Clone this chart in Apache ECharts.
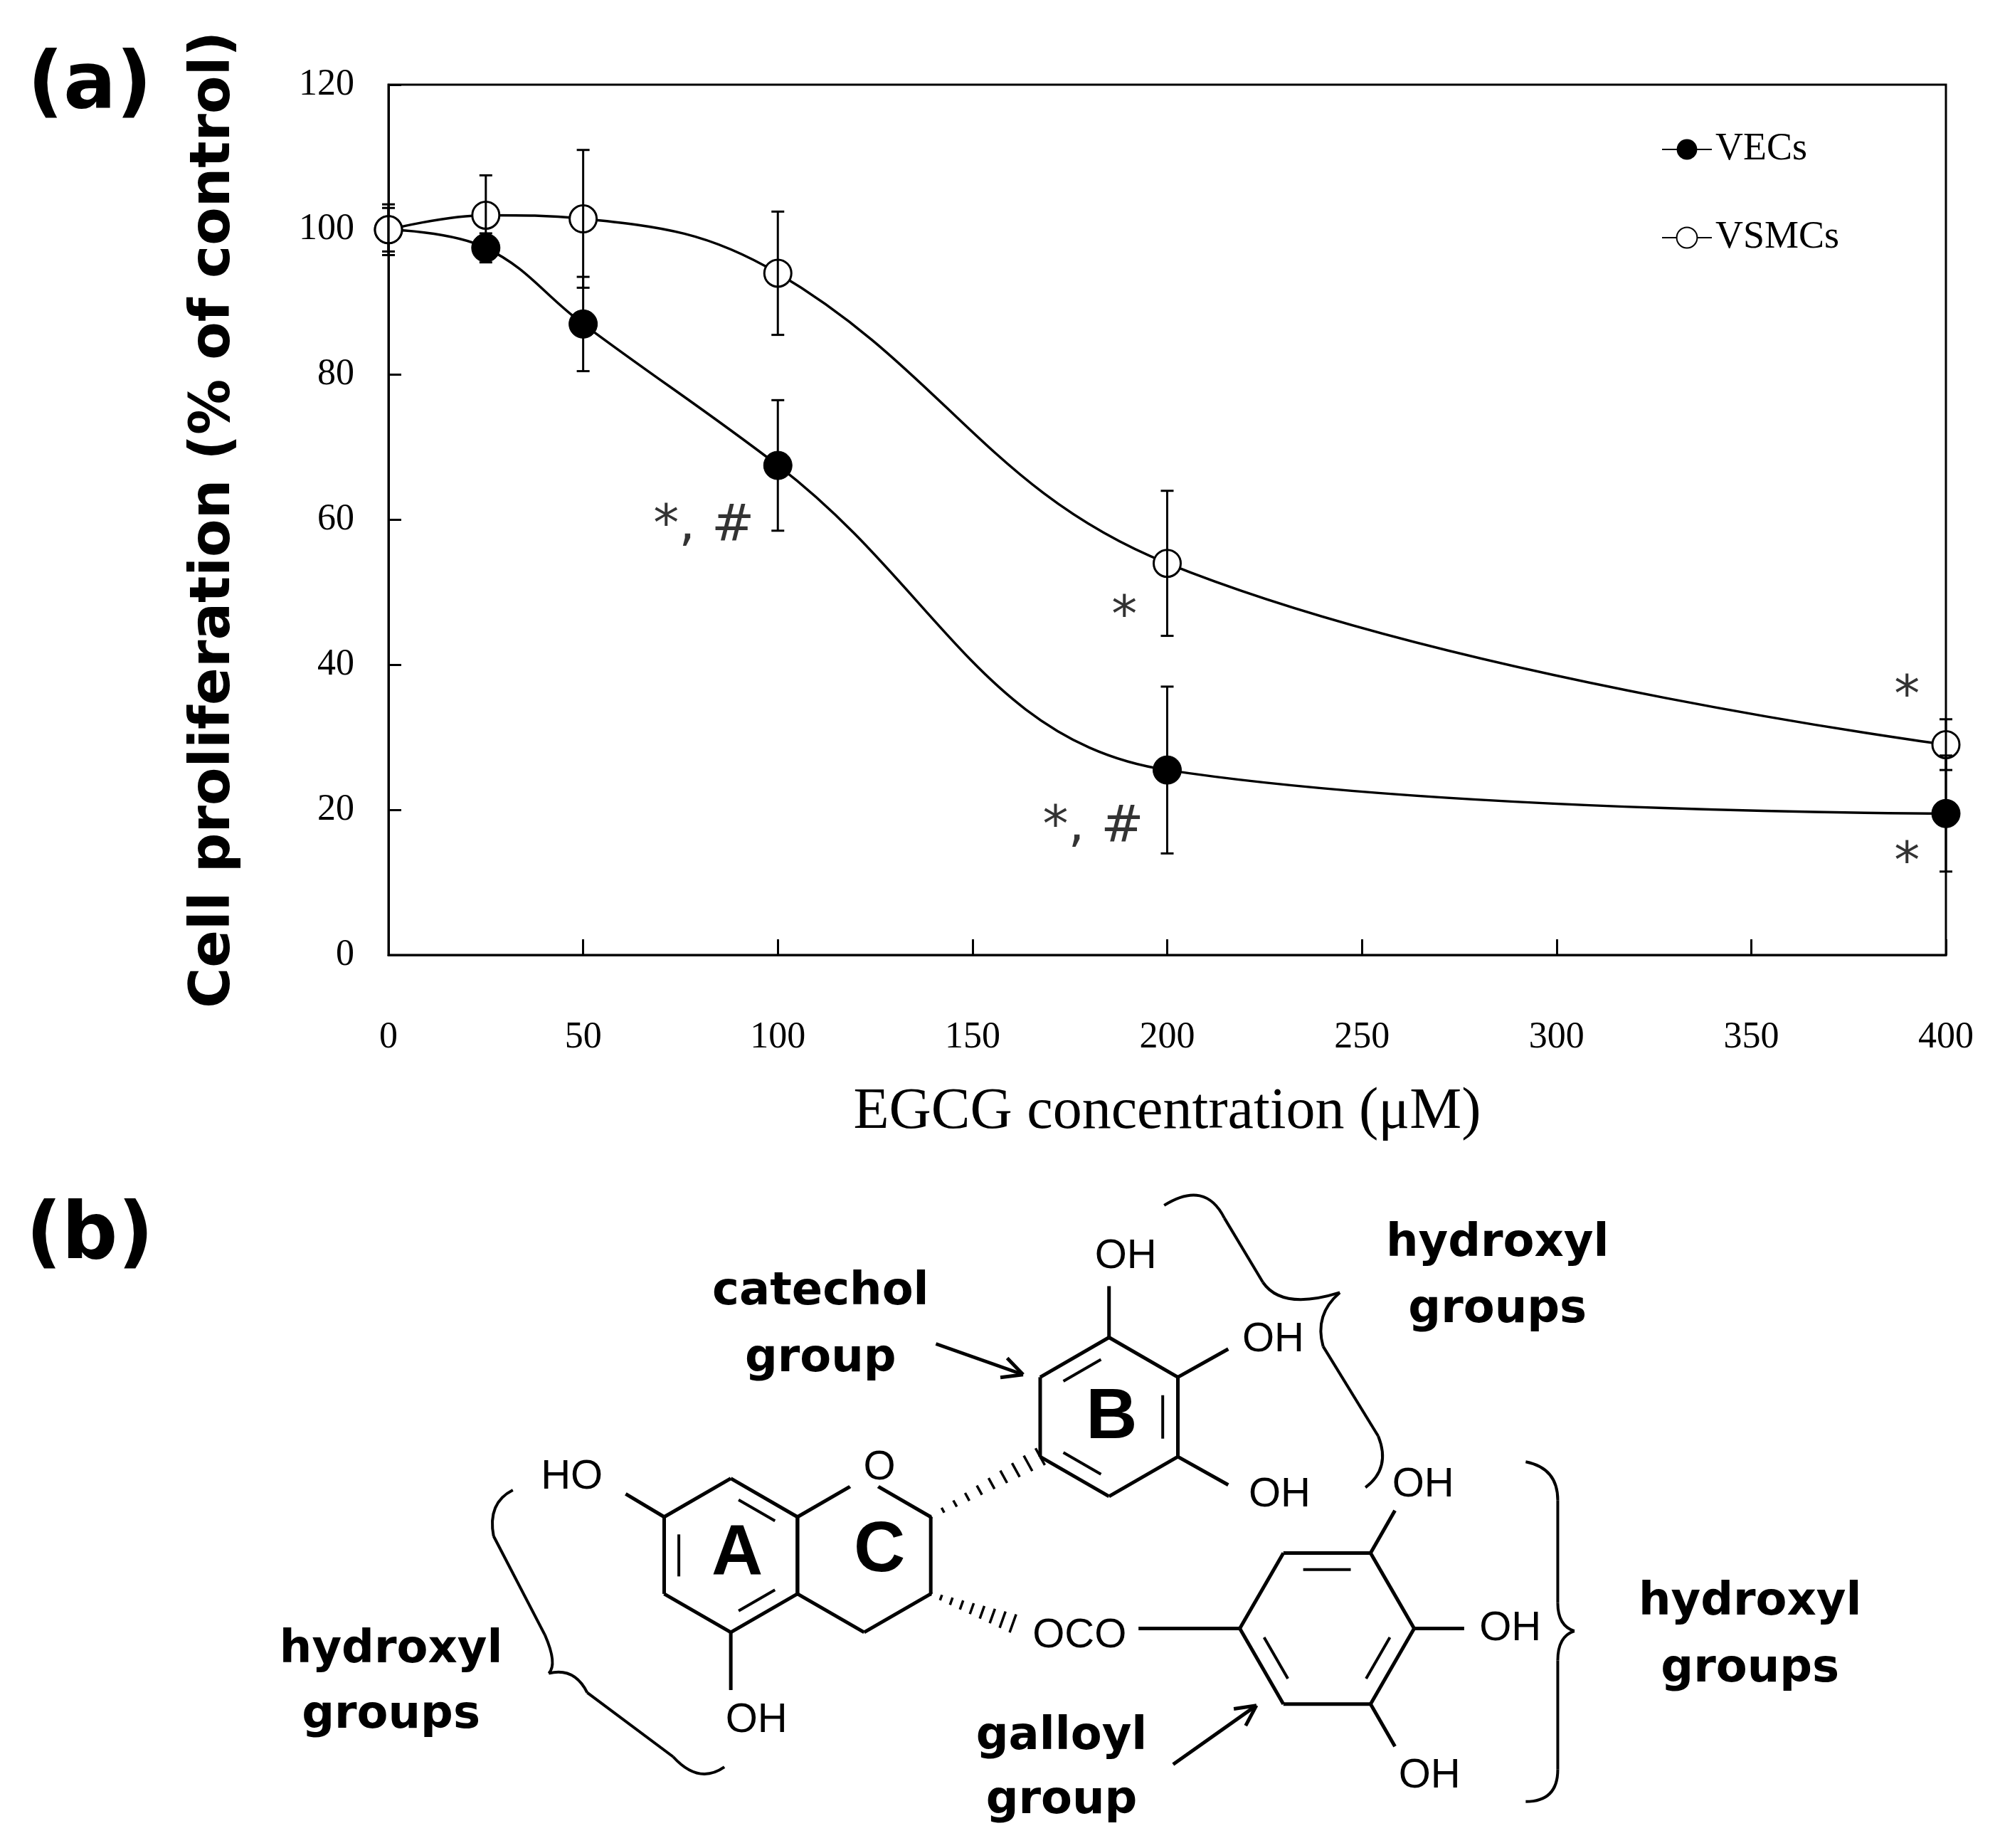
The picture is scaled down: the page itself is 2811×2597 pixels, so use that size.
<!DOCTYPE html>
<html>
<head>
<meta charset="utf-8">
<script src="https://cdn.jsdelivr.net/npm/echarts@6/dist/echarts.min.js"></script>
<style>html,body{margin:0;padding:0;background:#fff}#main{width:2811px;height:2597px}</style>
</head>
<body>
<div id="main"></div>
<script>
// EGCG concentration (uM)
var doses = [0, 25, 50, 100, 200, 400];
var vecMean = [100, 97.5, 87, 67.5, 25.5, 19.5];
var vecErr = [3, 2, 6.5, 9, 11.5, 8];
var vsmcMean = [100, 102, 101.5, 94, 54, 29];
var vsmcErr = [3.5, 5.5, 9.5, 8.5, 10, 3.5];
var xTicks = [0, 50, 100, 150, 200, 250, 300, 350, 400];
// significance marks: [x, y, text]
var marks = [[81, 59, '*, #'], [181, 17.5, '*, #'], [189, 46.5, '*'], [390, 35.5, '*'], [390, 12.5, '*']];

var S = 1.802; // reference scale
function P(x, y) { return [x * S, y * S]; }

var chart = echarts.init(document.getElementById('main'));

function errData(m, e) {
    return doses.map(function (d, i) { return [d, m[i] - e[i], m[i] + e[i]]; });
}
function errSeries(data) {
    return {
        type: 'custom', z: 5, silent: true,
        renderItem: function (params, api) {
            var lo = api.coord([api.value(0), api.value(1)]);
            var hi = api.coord([api.value(0), api.value(2)]);
            var w = 9;
            var st = { stroke: '#000', lineWidth: 3 };
            return { type: 'group', children: [
                { type: 'line', shape: { x1: lo[0], y1: lo[1], x2: hi[0], y2: hi[1] }, style: st },
                { type: 'line', shape: { x1: lo[0] - w, y1: lo[1], x2: lo[0] + w, y2: lo[1] }, style: st },
                { type: 'line', shape: { x1: hi[0] - w, y1: hi[1], x2: hi[0] + w, y2: hi[1] }, style: st }
            ] };
        },
        data: data
    };
}

// ---------- structure drawing (panel b) ----------
var g = [];
function line(a, b, w) {
    var p = P(a[0], a[1]), q = P(b[0], b[1]);
    g.push({ type: 'line', shape: { x1: p[0], y1: p[1], x2: q[0], y2: q[1] }, style: { stroke: '#000', lineWidth: w || 5 } });
}
function txt(x, y, s, size, weight, family) {
    var p = P(x, y);
    g.push({ type: 'text', x: p[0], y: p[1], style: { text: s, fontSize: size, fontWeight: weight || 'normal',
        fontFamily: family || 'Liberation Sans Narrow', fill: '#000', align: 'center', verticalAlign: 'middle' } });
}
function hexPts(cx, cy, r, start) {
    var pts = [];
    for (var i = 0; i < 6; i++) {
        var a = (start + 60 * i) * Math.PI / 180;
        pts.push([cx + r * Math.cos(a), cy + r * Math.sin(a)]);
    }
    return pts;
}
function ring(cx, cy, r, start, dbl) {
    var pts = hexPts(cx, cy, r, start);
    for (var i = 0; i < 6; i++) line(pts[i], pts[(i + 1) % 6]);
    dbl.forEach(function (i) {
        var a = pts[i], b = pts[(i + 1) % 6];
        var f = 0.78, t = 0.15;
        var a2 = [cx + (a[0] - cx) * f, cy + (a[1] - cy) * f], b2 = [cx + (b[0] - cx) * f, cy + (b[1] - cy) * f];
        line([a2[0] + (b2[0] - a2[0]) * t, a2[1] + (b2[1] - a2[1]) * t],
             [b2[0] + (a2[0] - b2[0]) * t, b2[1] + (a2[1] - b2[1]) * t], 4);
    });
    return pts;
}
function hashed(a, b, n) {
    var dx = b[0] - a[0], dy = b[1] - a[1], L = Math.sqrt(dx * dx + dy * dy);
    var nx = -dy / L, ny = dx / L;
    for (var i = 0; i <= n; i++) {
        var t = i / n, h = 1.5 + 6 * t;
        var cx = a[0] + dx * t, cy = a[1] + dy * t;
        line([cx - nx * h, cy - ny * h], [cx + nx * h, cy + ny * h], 3.5);
    }
}
function arrow(a, b) {
    line(a, b, 5);
    var dx = b[0] - a[0], dy = b[1] - a[1], L = Math.sqrt(dx * dx + dy * dy);
    var ux = dx / L, uy = dy / L, h = 16;
    line(b, [b[0] - ux * h - uy * 8, b[1] - uy * h + ux * 8], 5);
    line(b, [b[0] - ux * h + uy * 8, b[1] - uy * h - ux * 8], 5);
}
// brace: start point then segments [x,y] (line) or [cx,cy,x,y] (quadratic)
function brace(start, segs) {
    var cur = start;
    segs.forEach(function (s) {
        if (s.length === 2) { line(cur, s, 4); cur = s; return; }
        var p = P(cur[0], cur[1]), c = P(s[0], s[1]), q = P(s[2], s[3]);
        g.push({ type: 'bezierCurve', shape: { x1: p[0], y1: p[1], cpx1: c[0], cpy1: c[1], x2: q[0], y2: q[1] },
            style: { stroke: '#000', lineWidth: 4, fill: null } });
        cur = [s[2], s[3]];
    });
}

var A = ring(570, 1213, 60, -90, [0, 2, 4]);
var C = ring(674, 1213, 60, -90, []);
var B = ring(865, 1105, 62, -90, [1, 3, 5]);
var G = ring(1035, 1270, 68, 0, [4, 0, 2]);
// O in ring C
g.push({ type: 'circle', shape: { cx: 674 * S, cy: 1150 * S, r: 26 }, style: { fill: '#fff' } });
txt(686, 1145, 'O', 58, 'normal', 'Liberation Sans');
line(A[5], [488, 1165]);
txt(446, 1152, 'HO', 58, 'normal', 'Liberation Sans');
line(A[3], [570, 1318]);
txt(590, 1342, 'OH', 58, 'normal', 'Liberation Sans');
hashed(C[1], B[4], 9);
line(B[0], [865, 1003]);
txt(878, 980, 'OH', 58, 'normal', 'Liberation Sans');
line(B[1], [958, 1052]);
txt(993, 1045, 'OH', 58, 'normal', 'Liberation Sans');
line(B[2], [958, 1158]);
txt(998, 1166, 'OH', 58, 'normal', 'Liberation Sans');
hashed(C[2], [790, 1266], 8);
txt(842, 1276, 'OCO', 58, 'normal', 'Liberation Sans');
line([888, 1270], G[3]);
line(G[5], [1088, 1178]);
txt(1110, 1158, 'OH', 58, 'normal', 'Liberation Sans');
line(G[0], [1142, 1270]);
txt(1178, 1270, 'OH', 58, 'normal', 'Liberation Sans');
line(G[1], [1088, 1362]);
txt(1115, 1385, 'OH', 58, 'normal', 'Liberation Sans');
txt(575, 1213, 'A', 100, 'bold', 'Liberation Sans');
txt(686, 1210, 'C', 100, 'bold', 'Liberation Sans');
txt(867, 1106, 'B', 100, 'bold', 'Liberation Sans');
txt(640, 1008, 'catechol', 64, 'bold', 'DejaVu Sans');
txt(640, 1060, 'group', 64, 'bold', 'DejaVu Sans');
txt(1168, 970, 'hydroxyl', 64, 'bold', 'DejaVu Sans');
txt(1168, 1022, 'groups', 64, 'bold', 'DejaVu Sans');
txt(305, 1287, 'hydroxyl', 64, 'bold', 'DejaVu Sans');
txt(305, 1338, 'groups', 64, 'bold', 'DejaVu Sans');
txt(1365, 1250, 'hydroxyl', 64, 'bold', 'DejaVu Sans');
txt(1365, 1302, 'groups', 64, 'bold', 'DejaVu Sans');
txt(828, 1355, 'galloyl', 64, 'bold', 'DejaVu Sans');
txt(828, 1405, 'group', 64, 'bold', 'DejaVu Sans');
arrow([730, 1048], [798, 1072]);
arrow([915, 1376], [980, 1330]);
brace([908, 940], [[940, 920, 955, 950], [985, 1000], [1000, 1022, 1045, 1008], [1025, 1025, 1032, 1050], [1075, 1120], [1085, 1145, 1065, 1160]]);
brace([1190, 1140], [[1215, 1145, 1215, 1170], [1215, 1250], [1215, 1268, 1228, 1272], [1215, 1276, 1215, 1295], [1215, 1380], [1215, 1405, 1190, 1405]]);
brace([400, 1162], [[380, 1172, 385, 1198], [425, 1275], [435, 1298, 428, 1305], [448, 1300, 458, 1320], [525, 1370], [545, 1392, 565, 1378]]);
txt(70, 965, '(b)', 110, 'bold', 'DejaVu Sans');
txt(70, 68, '(a)', 110, 'bold', 'DejaVu Sans');

var option = {
    animation: false,
    grid: { left: 546, right: 76, top: 119, bottom: 1255, show: true, borderColor: '#000', borderWidth: 3 },
    legend: {
        left: 2330, top: 178, orient: 'vertical', itemWidth: 70, itemHeight: 36, itemGap: 70,
        textStyle: { fontSize: 54, color: '#000', fontFamily: 'Liberation Sans Narrow' },
        data: ['VECs', 'VSMCs']
    },
    xAxis: {
        type: 'value', min: 0, max: 400, interval: 50,
        name: 'EGCG concentration (μM)', nameLocation: 'middle', nameGap: 180,
        nameTextStyle: { fontSize: 82, color: '#000', fontFamily: 'Liberation Sans Narrow' },
        axisLine: { lineStyle: { color: '#000', width: 3 } },
        axisTick: { inside: true, length: 22, lineStyle: { color: '#000', width: 3 } },
        axisLabel: { margin: 90, fontSize: 52, color: '#000', fontFamily: 'Liberation Sans Narrow',
            formatter: function (v) { return xTicks.indexOf(v) >= 0 ? v : ''; } },
        splitLine: { show: false }
    },
    yAxis: {
        type: 'value', min: 0, max: 120, interval: 20,
        name: 'Cell proliferation (% of control)', nameLocation: 'middle', nameGap: 205,
        nameTextStyle: { fontSize: 78, fontWeight: 'bold', color: '#000', fontFamily: 'DejaVu Sans' },
        axisLine: { show: true, lineStyle: { color: '#000', width: 3 } },
        axisTick: { show: true, inside: true, length: 18, lineStyle: { color: '#000', width: 3 } },
        axisLabel: { margin: 48, fontSize: 52, color: '#000', fontFamily: 'Liberation Sans Narrow' },
        splitLine: { show: false }
    },
    series: [
        {
            name: 'VECs', type: 'line', smooth: 0.4, z: 3,
            data: doses.map(function (d, i) { return [d, vecMean[i]]; }),
            symbol: 'circle', symbolSize: 40,
            itemStyle: { color: '#000', borderColor: '#000' },
            lineStyle: { color: '#000', width: 3.5 }
        },
        {
            name: 'VSMCs', type: 'line', smooth: 0.4, z: 3,
            data: doses.map(function (d, i) { return [d, vsmcMean[i]]; }),
            symbol: 'circle', symbolSize: 38,
            itemStyle: { color: '#fff', borderColor: '#000', borderWidth: 3 },
            lineStyle: { color: '#000', width: 3.5 }
        },
        errSeries(errData(vecMean, vecErr)),
        errSeries(errData(vsmcMean, vsmcErr)),
        {
            type: 'scatter', symbolSize: 0, silent: true,
            data: marks.map(function (m) { return { value: [m[0], m[1]], label: { formatter: m[2] } }; }),
            label: { show: true, position: 'inside', fontSize: 72, color: '#000', fontFamily: 'DejaVu Sans' }
        }
    ],
    graphic: g
};
chart.setOption(option);
</script>
</body>
</html>
